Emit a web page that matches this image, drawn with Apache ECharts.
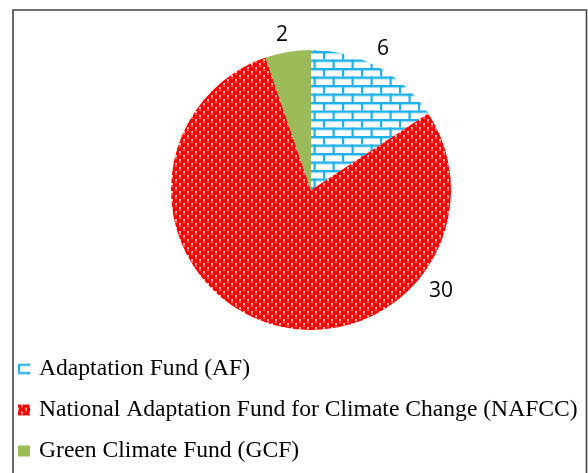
<!DOCTYPE html>
<html>
<head>
<meta charset="utf-8">
<script src="https://cdn.jsdelivr.net/npm/echarts@6/dist/echarts.min.js"></script>
<style>
html,body{margin:0;padding:0;background:#fff;}
#main{width:588px;height:473px;}
</style>
</head>
<body>
<div id="main"></div>
<script>
const categories = ['Adaptation Fund (AF)', 'National Adaptation Fund for Climate Change (NAFCC)', 'Green Climate Fund (GCF)'];
const values = [6, 30, 2];
const valueLabels = ['6', '30', '2'];

function brickPattern() {
  const c = document.createElement('canvas');
  c.width = 19; c.height = 17;
  const g = c.getContext('2d');
  g.fillStyle = '#ffffff';
  g.fillRect(0, 0, 19, 17);
  g.fillStyle = '#1fb1ec';
  g.fillRect(0, 0, 19, 2.2);
  g.fillRect(0, 8.5, 19, 2.2);
  g.fillRect(0, 0, 2.2, 8.5);
  g.fillRect(9.5, 8.5, 2.2, 8.5);
  g.fillStyle = 'rgba(31,177,236,0.35)';
  g.fillRect(0, 2.2, 19, 1);
  g.fillRect(0, 10.7, 19, 1);
  return c;
}
function ballPattern() {
  const c = document.createElement('canvas');
  c.width = 8; c.height = 8;
  const g = c.getContext('2d');
  g.fillStyle = '#ffffff';
  g.fillRect(0, 0, 8, 8);
  g.fillStyle = '#ff0000';
  [[4,4],[0,0],[8,0],[0,8],[8,8]].forEach(p => {
    g.beginPath(); g.arc(p[0], p[1], 3.15, 0, Math.PI*2); g.fill();
  });
  g.fillStyle = 'rgba(255,255,255,0.75)';
  [[4,2.2],[0,-1.8],[8,-1.8],[0,6.2],[8,6.2]].forEach(p => {
    g.fillRect(p[0]-1, p[1]-0.5, 2, 1);
  });
  return c;
}

const fills = [
  { image: brickPattern(), repeat: 'repeat' },
  { image: ballPattern(), repeat: 'repeat' },
  '#9bbb59'
];
const labelPos = [[383, 49], [441, 291], [282, 35]];

const chart = echarts.init(document.getElementById('main'));
chart.setOption({
  animation: false,
  backgroundColor: '#fff',
  graphic: [{
    type: 'rect',
    shape: { x: 13, y: 10, width: 573.5, height: 600 },
    style: { fill: 'none', stroke: '#444', lineWidth: 1.6 },
    silent: true
  }],
  legend: {
    orient: 'vertical',
    left: 13,
    top: 352,
    itemWidth: 12,
    itemHeight: 11,
    itemGap: 17,
    icon: 'rect',
    data: categories,
    textStyle: { fontFamily: 'Liberation Serif', fontSize: 23.6, color: '#000', padding: [0, 0, 0, 4] }
  },
  series: [{
    type: 'pie',
    center: [311, 190],
    radius: [0, 140],
    startAngle: 90,
    clockwise: true,
    avoidLabelOverlap: false,
    data: categories.map((n, i) => ({
      name: n,
      value: values[i],
      itemStyle: { color: fills[i] }
    })),
    itemStyle: { borderWidth: 0 },
    label: {
      show: true,
      position: 'outside',
      formatter: p => valueLabels[p.dataIndex],
      fontFamily: 'Open Sans',
      fontSize: 21,
      color: '#000'
    },
    labelLine: { show: false },
    labelLayout: function (params) {
      const p = labelPos[params.dataIndex];
      return { x: p[0], y: p[1], align: 'center', verticalAlign: 'middle' };
    },
    emphasis: { disabled: true }
  }]
});
</script>
</body>
</html>
